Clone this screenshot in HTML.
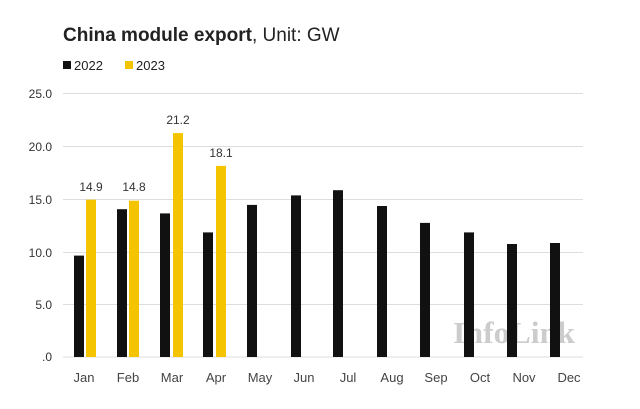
<!DOCTYPE html><html><head><style>body{margin:0;background:#fff}svg{display:block}</style></head><body>
<svg width="640" height="409" xmlns="http://www.w3.org/2000/svg" font-family="Liberation Sans, sans-serif">
<rect width="640" height="409" fill="#fff"/>
<text x="63" y="41" font-size="19" fill="#222"><tspan font-weight="bold">China module export</tspan>, Unit: GW</text>
<rect x="63" y="61" width="8" height="8" fill="#111"/><text x="74" y="70" font-size="13" fill="#222">2022</text>
<rect x="125" y="61" width="8" height="8" fill="#f5c400"/><text x="136" y="70" font-size="13" fill="#222">2023</text>
<g stroke="#ddd" stroke-width="1">
<line x1="63" x2="583" y1="93.5" y2="93.5"/><line x1="63" x2="583" y1="146.5" y2="146.5"/><line x1="63" x2="583" y1="199.5" y2="199.5"/><line x1="63" x2="583" y1="252.5" y2="252.5"/><line x1="63" x2="583" y1="304.5" y2="304.5"/><line x1="63" x2="583" y1="357" y2="357"/></g>
<g font-size="12" fill="#333" text-anchor="end">
<text x="52" y="98">25.0</text><text x="52" y="151">20.0</text><text x="52" y="204">15.0</text><text x="52" y="257">10.0</text><text x="52" y="309">5.0</text><text x="52" y="361">.0</text></g>
<text x="453" y="343" font-family="Liberation Serif, serif" font-weight="bold" font-size="31" fill="#ccc" textLength="122" lengthAdjust="spacingAndGlyphs">InfoLink</text>
<g fill="#111">
<rect x="74" y="255.6" width="10" height="101.4"/>
<rect x="117" y="209.2" width="10" height="147.8"/>
<rect x="160" y="213.4" width="10" height="143.6"/>
<rect x="203" y="232.4" width="10" height="124.6"/>
<rect x="247" y="204.9" width="10" height="152.1"/>
<rect x="291" y="195.4" width="10" height="161.6"/>
<rect x="333" y="190.2" width="10" height="166.8"/>
<rect x="377" y="206" width="10" height="151"/>
<rect x="420" y="222.9" width="10" height="134.1"/>
<rect x="464" y="232.4" width="10" height="124.6"/>
<rect x="507" y="244" width="10" height="113"/>
<rect x="550" y="243" width="10" height="114"/>
</g>
<g fill="#f5c400">
<rect x="86" y="199.7" width="10" height="157.3"/>
<rect x="129" y="200.7" width="10" height="156.3"/>
<rect x="173" y="133.1" width="10" height="223.9"/>
<rect x="216" y="165.9" width="10" height="191.1"/>
</g>
<g font-size="12" fill="#333" text-anchor="middle">
<text x="91" y="191">14.9</text><text x="134" y="191">14.8</text><text x="178" y="124">21.2</text><text x="221" y="157">18.1</text></g>
<g font-size="13" fill="#444" text-anchor="middle">
<text x="84" y="382">Jan</text><text x="128" y="382">Feb</text><text x="172" y="382">Mar</text><text x="216" y="382">Apr</text><text x="260" y="382">May</text><text x="304" y="382">Jun</text><text x="348" y="382">Jul</text><text x="392" y="382">Aug</text><text x="436" y="382">Sep</text><text x="480" y="382">Oct</text><text x="524" y="382">Nov</text><text x="569" y="382">Dec</text></g>
</svg></body></html>
